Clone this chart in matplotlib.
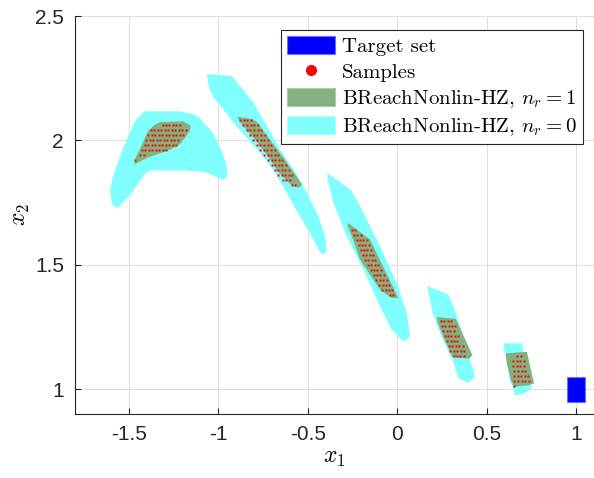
import matplotlib
matplotlib.use("Agg")
import matplotlib.pyplot as plt
from matplotlib.patches import Patch
from matplotlib.lines import Line2D

plt.rcParams['font.family'] = 'Liberation Sans'
plt.rcParams['mathtext.fontset'] = 'cm'
plt.rcParams['axes.unicode_minus'] = False

# outer sets, n_r = 0 (x1 list, x2 list per set)
cyan_x = [
    [-1.408, -1.212, -1.156, -1.112, -1.028, -0.978, -0.950, -0.950, -0.972, -1.017, -1.061, -1.101,
     -1.196, -1.380, -1.408, -1.436, -1.475, -1.520, -1.559, -1.587, -1.598, -1.603, -1.587, -1.547,
     -1.508, -1.464, -1.436],
    [-1.063, -1.054, -1.026, -0.970, -0.915, -0.840, -0.765, -0.682, -0.607, -0.532, -0.468, -0.421,
     -0.393, -0.402, -0.440, -0.504, -0.579, -0.654, -0.728, -0.803, -0.923],
    [-0.389, -0.253, -0.188, -0.095, -0.002, 0.054, 0.073, 0.035, -0.030, -0.095, -0.188, -0.281,
     -0.356, -0.389],
    [0.169, 0.287, 0.315, 0.370, 0.436, 0.398, 0.342, 0.315, 0.240, 0.199, 0.175],
    [0.594, 0.697, 0.706, 0.753, 0.706, 0.659, 0.631, 0.609, 0.594],
]
cyan_y = [
    [2.117, 2.117, 2.109, 2.097, 2.028, 1.955, 1.895, 1.854, 1.842, 1.854, 1.870, 1.874,
     1.879, 1.879, 1.866, 1.838, 1.798, 1.757, 1.729, 1.737, 1.765, 1.806, 1.858, 1.939,
     2.008, 2.077, 2.101],
    [2.266, 2.219, 2.172, 2.125, 2.071, 2.011, 1.950, 1.870, 1.775, 1.681, 1.601, 1.540,
     1.550, 1.614, 1.695, 1.789, 1.883, 1.964, 2.058, 2.152, 2.259],
    [1.870, 1.796, 1.708, 1.574, 1.426, 1.305, 1.211, 1.191, 1.238, 1.332, 1.480, 1.614,
     1.749, 1.843],
    [1.415, 1.379, 1.332, 1.211, 1.050, 1.025, 1.043, 1.104, 1.225, 1.305, 1.386],
    [1.184, 1.184, 1.144, 1.003, 0.980, 0.976, 1.036, 1.124, 1.177],
]

# inner sets, n_r = 1
green_x = [
    [-1.326, -1.196, -1.153, -1.158, -1.186, -1.214, -1.261, -1.326, -1.391, -1.447, -1.469, -1.462,
     -1.437, -1.413, -1.391, -1.354],
    [-0.894, -0.810, -0.782, -0.726, -0.642, -0.577, -0.531, -0.549, -0.596, -0.661, -0.736, -0.810,
     -0.875],
    [-0.272, -0.188, -0.151, 0.007, -0.030, -0.095, -0.207, -0.253, -0.278],
    [0.222, 0.328, 0.421, 0.402, 0.309, 0.263, 0.225],
    [0.607, 0.725, 0.765, 0.737, 0.654, 0.635, 0.613],
]
green_y = [
    [2.073, 2.077, 2.059, 2.039, 2.009, 1.985, 1.965, 1.948, 1.931, 1.911, 1.902, 1.931,
     1.965, 2.005, 2.039, 2.063],
    [2.096, 2.085, 2.073, 2.017, 1.937, 1.870, 1.823, 1.809, 1.823, 1.870, 1.950, 2.017, 2.071],
    [1.668, 1.621, 1.601, 1.366, 1.366, 1.399, 1.520, 1.614, 1.657],
    [1.290, 1.283, 1.136, 1.122, 1.129, 1.203, 1.270],
    [1.144, 1.150, 1.023, 1.016, 1.009, 1.036, 1.104],
]

# samples, one (x2, [x1 ...]) entry per row of dots
sample_rows = [
    (2.063, [-1.311, -1.291, -1.272, -1.252, -1.233, -1.213]),
    (2.043, [-1.376, -1.357, -1.337, -1.318, -1.298, -1.279, -1.259, -1.240, -1.220, -1.201, -1.181]),
    (2.023, [-1.391, -1.372, -1.352, -1.333, -1.313, -1.294, -1.274, -1.255, -1.235, -1.216, -1.196]),
    (2.001, [-1.401, -1.382, -1.362, -1.343, -1.323, -1.304, -1.284, -1.265, -1.245, -1.226]),
    (1.981, [-1.410, -1.391, -1.371, -1.352, -1.332, -1.313, -1.293, -1.274, -1.254, -1.235]),
    (1.961, [-1.428, -1.409, -1.389, -1.370, -1.350, -1.331, -1.311, -1.292]),
    (1.941, [-1.437, -1.417]),
    (1.921, [-1.462]),

    (2.082, [-0.877, -0.857, -0.837, -0.817]),
    (2.062, [-0.859, -0.839, -0.819, -0.799, -0.779]),
    (2.042, [-0.840, -0.820, -0.800, -0.780, -0.760]),
    (2.021, [-0.821, -0.801, -0.781, -0.761, -0.741]),
    (2.001, [-0.803, -0.783, -0.763, -0.743, -0.723]),
    (1.981, [-0.784, -0.764, -0.744, -0.724, -0.704]),
    (1.961, [-0.765, -0.745, -0.725, -0.705, -0.685]),
    (1.941, [-0.744, -0.724, -0.704, -0.684, -0.664]),
    (1.921, [-0.722, -0.702, -0.682, -0.662, -0.642]),
    (1.900, [-0.702, -0.682, -0.662, -0.642, -0.622]),
    (1.880, [-0.684, -0.664, -0.644, -0.624, -0.604]),
    (1.860, [-0.665, -0.645, -0.625, -0.605, -0.585]),
    (1.840, [-0.640, -0.620, -0.600]),
    (1.820, [-0.590, -0.570]),

    (1.640, [-0.255, -0.236]),
    (1.620, [-0.241, -0.222, -0.203]),
    (1.600, [-0.226, -0.207, -0.188, -0.169]),
    (1.580, [-0.215, -0.196, -0.177, -0.158]),
    (1.560, [-0.204, -0.185, -0.166, -0.147]),
    (1.540, [-0.192, -0.173, -0.154, -0.135]),
    (1.520, [-0.180, -0.161, -0.142, -0.123]),
    (1.500, [-0.164, -0.145, -0.126, -0.107]),
    (1.480, [-0.148, -0.129, -0.110, -0.091]),
    (1.460, [-0.132, -0.113, -0.094, -0.075]),
    (1.440, [-0.116, -0.097, -0.078, -0.059]),
    (1.420, [-0.100, -0.081, -0.062, -0.043]),
    (1.400, [-0.084, -0.065, -0.046, -0.027]),
    (1.380, [-0.040, -0.021]),

    (1.275, [0.245, 0.264, 0.283, 0.302]),
    (1.255, [0.250, 0.269, 0.288, 0.307, 0.326]),
    (1.235, [0.259, 0.278, 0.297, 0.316]),
    (1.215, [0.265, 0.284, 0.303, 0.322, 0.341]),
    (1.195, [0.280, 0.299, 0.318, 0.337]),
    (1.175, [0.290, 0.309, 0.328, 0.347, 0.366]),
    (1.154, [0.298, 0.317, 0.336, 0.355, 0.374]),
    (1.134, [0.315, 0.334, 0.353, 0.372]),

    (1.134, [0.672, 0.691]),
    (1.114, [0.646, 0.667, 0.688, 0.709]),
    (1.094, [0.646, 0.667, 0.688, 0.709]),
    (1.074, [0.654, 0.675, 0.696, 0.717]),
    (1.054, [0.654, 0.674, 0.694, 0.714, 0.734]),
    (1.033, [0.654, 0.675, 0.696, 0.717, 0.738]),
    (1.013, [0.654]),
]

target_x = [0.95, 1.05, 1.05, 0.95]
target_y = [0.95, 0.95, 1.05, 1.05]

labels = ['Target set', 'Samples', r'BReachNonlin-HZ, $n_r = 1$', r'BReachNonlin-HZ, $n_r = 0$']

c_target = '#0000ff'
c_green = '#80b380'
c_cyan = '#80ffff'

fig = plt.figure(figsize=(5.94, 4.78), dpi=100)
ax = fig.add_axes([75 / 594, 64 / 478, 519 / 594, 398 / 478])

for xs, ys in zip(cyan_x, cyan_y):
    ax.fill(xs, ys, color=c_cyan, lw=0, zorder=2)
for xs, ys in zip(green_x, green_y):
    ax.fill(xs, ys, color=c_green, lw=0, zorder=3)

sx, sy = [], []
for y, xs in sample_rows:
    sx += xs
    sy += [y] * len(xs)
ax.plot(sx, sy, ls='none', marker='s', ms=1.8, mfc='red', mec='none', zorder=4)

ax.fill(target_x, target_y, facecolor=c_target, edgecolor='#6f6fff', lw=0.8, zorder=4)

ax.set_xlim(-1.8, 1.1)
ax.set_ylim(0.9, 2.5)
ax.set_xticks([-1.5, -1, -0.5, 0, 0.5, 1])
ax.set_xticklabels(['-1.5', '-1', '-0.5', '0', '0.5', '1'])
ax.set_yticks([1, 1.5, 2, 2.5])
ax.set_yticklabels(['1', '1.5', '2', '2.5'])
ax.tick_params(direction='in', length=4, width=0.8, labelsize=15, colors='#262626', pad=8)
for s in ['top', 'right']:
    ax.spines[s].set_visible(False)
for s in ['left', 'bottom']:
    ax.spines[s].set_color('#262626')
    ax.spines[s].set_linewidth(0.8)
ax.grid(True, color='#e0e0e0', lw=0.8)
ax.set_axisbelow(True)

ax.set_xlabel(r'$x_1$', fontsize=17, labelpad=2)
ax.set_ylabel(r'$x_2$', fontsize=17, labelpad=2)

handles = [
    Patch(facecolor=c_target, edgecolor='#6f6fff', lw=0.8),
    Line2D([], [], ls='none', marker='o', ms=7, mfc='red', mec='red'),
    Patch(facecolor=c_green, edgecolor='#a8cca8', lw=0.8),
    Patch(facecolor=c_cyan, edgecolor='#b0ffff', lw=0.8),
]
leg = ax.legend(handles, labels, loc='upper right', bbox_to_anchor=(0.979, 0.965),
                prop={'family': 'cmr10', 'size': 15}, fancybox=False, framealpha=1,
                edgecolor='#262626', handlelength=2.3, handleheight=0.95,
                handletextpad=0.35, labelspacing=0.28, borderpad=0.3, borderaxespad=0)
leg.get_frame().set_linewidth(0.8)
leg.set_zorder(10)

fig.savefig('out.png', dpi=100)
